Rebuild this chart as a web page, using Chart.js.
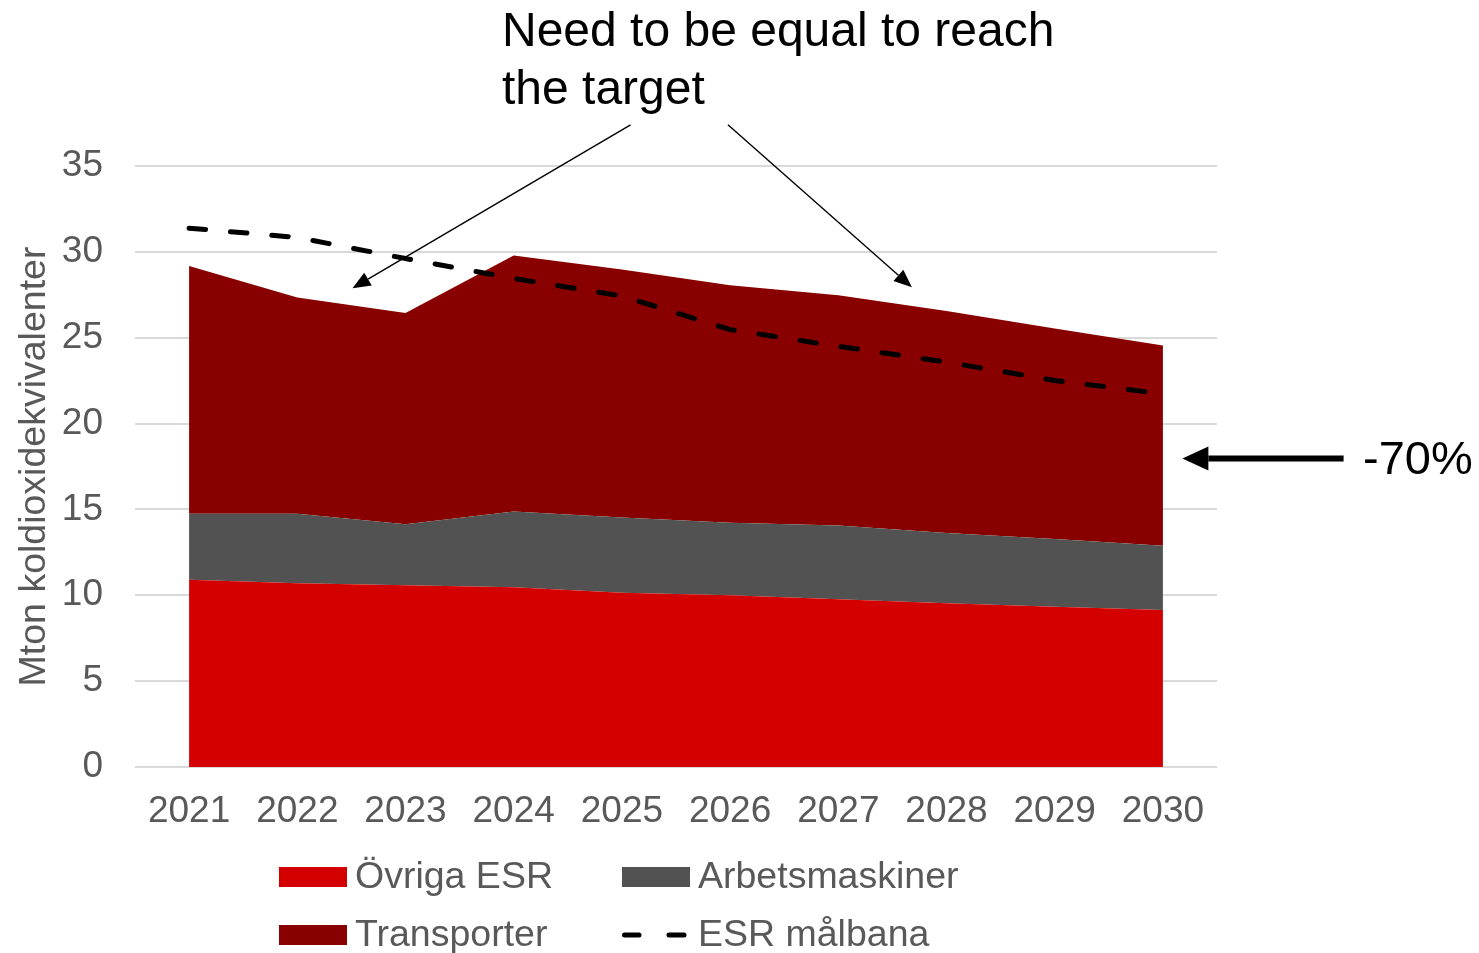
<!DOCTYPE html>
<html>
<head>
<meta charset="utf-8">
<title>ESR</title>
<script src="https://cdn.jsdelivr.net/npm/chart.js@4.4.1/dist/chart.umd.min.js"></script>
<style>
  html, body { margin: 0; padding: 0; background: #fff; }
  #wrap { width: 1479px; height: 953px; }
</style>
</head>
<body>
<div id="wrap"><canvas id="esr-chart" width="1479" height="953"></canvas></div>
<script>
const years = ['2021', '2022', '2023', '2024', '2025', '2026', '2027', '2028', '2029', '2030']
const ovrigaEsr = [10.90, 10.70, 10.59, 10.47, 10.15, 10.00, 9.77, 9.53, 9.33, 9.14]
const arbetsmaskiner = [3.85, 4.05, 3.55, 4.41, 4.38, 4.22, 4.29, 4.10, 3.95, 3.75]
const transporter = [14.42, 12.59, 12.30, 14.91, 14.44, 13.84, 13.41, 12.93, 12.25, 11.66]
const esrMalbana = [31.38, 30.84, 29.61, 28.45, 27.43, 25.47, 24.50, 23.58, 22.51, 21.73]

const FONT = '"Liberation Sans", Arial, sans-serif'
const GREY_TEXT = '#595959'

// arrow helper, tip at (x2, y2)
const drawArrow = (ctx, x1, y1, x2, y2, width, headLen, headWidth) => {
  const ang = Math.atan2(y2 - y1, x2 - x1)
  const bx = x2 - headLen * Math.cos(ang)
  const by = y2 - headLen * Math.sin(ang)
  ctx.save()
  ctx.strokeStyle = '#000'
  ctx.fillStyle = '#000'
  ctx.lineWidth = width
  ctx.beginPath()
  ctx.moveTo(x1, y1)
  ctx.lineTo(bx, by)
  ctx.stroke()
  ctx.beginPath()
  ctx.moveTo(x2, y2)
  ctx.lineTo(bx + headWidth / 2 * Math.sin(ang), by - headWidth / 2 * Math.cos(ang))
  ctx.lineTo(bx - headWidth / 2 * Math.sin(ang), by + headWidth / 2 * Math.cos(ang))
  ctx.closePath()
  ctx.fill()
  ctx.restore()
}

// callout text, arrows and the custom two-column legend
const annotations = {
  id: 'annotations',
  afterDraw(chart) {
    const { ctx, scales: { x, y } } = chart
    const px = (i, v) => [x.getPixelForValue(i), y.getPixelForValue(v)]

    ctx.save()
    ctx.fillStyle = '#000'
    ctx.font = `48px ${FONT}`
    ctx.textBaseline = 'alphabetic'
    ctx.fillText('Need to be equal to reach', 502, 46)
    ctx.fillText('the target', 502, 104)

    // arrows pointing at the gap between target and emissions
    let [ax, ay] = px(4.08, 37.4), [bx, by] = px(1.51, 27.88)
    drawArrow(ctx, ax, ay, bx, by, 1.4, 18, 15)
    ;[ax, ay] = px(4.98, 37.4); [bx, by] = px(6.68, 27.94)
    drawArrow(ctx, ax, ay, bx, by, 1.4, 18, 15)

    // reduction marker
    ;[ax, ay] = px(10.67, 17.96); [bx, by] = px(9.18, 17.96)
    drawArrow(ctx, ax, ay, bx, by, 6, 26, 24)
    ctx.font = `47px ${FONT}`
    ctx.textBaseline = 'middle'
    ctx.fillText('-70%', 1363, ay + 2)

    // legend
    const slots = [[279, 877], [622, 877], [279, 935], [622, 935]]
    ctx.font = `37.5px ${FONT}`
    chart.data.datasets.forEach((ds, i) => {
      const [lx, ly] = slots[i]
      if (ds.fill !== false) {
        ctx.fillStyle = ds.backgroundColor
        ctx.fillRect(lx, ly - 10, 68, 20)
      } else {
        ctx.strokeStyle = ds.borderColor
        ctx.lineWidth = 5
        ctx.lineCap = 'round'
        ctx.beginPath()
        ctx.moveTo(lx + 2.5, ly); ctx.lineTo(lx + 17, ly)
        ctx.moveTo(lx + 47, ly); ctx.lineTo(lx + 62, ly)
        ctx.stroke()
      }
      ctx.fillStyle = GREY_TEXT
      ctx.fillText(ds.label, lx + 76, ly + 1)
    })
    ctx.restore()
  }
}

const data = {
  labels: years,
  datasets: [
    {
      label: 'Övriga ESR',
      data: ovrigaEsr,
      backgroundColor: '#D40000',
      borderWidth: 0,
      fill: 'origin',
      pointRadius: 0,
      stack: 'utslapp'
    },
    {
      label: 'Arbetsmaskiner',
      data: arbetsmaskiner,
      backgroundColor: '#525252',
      borderWidth: 0,
      fill: '-1',
      pointRadius: 0,
      stack: 'utslapp'
    },
    {
      label: 'Transporter',
      data: transporter,
      backgroundColor: '#880000',
      borderWidth: 0,
      fill: '-1',
      pointRadius: 0,
      stack: 'utslapp'
    },
    {
      label: 'ESR målbana',
      data: esrMalbana,
      borderColor: '#000',
      borderWidth: 5,
      borderDash: [16.5, 25],
      borderCapStyle: 'round',
      fill: false,
      pointRadius: 0,
      order: -1,
      stack: 'mal'
    }
  ]
}

const config = {
  type: 'line',
  data: data,
  options: {
    responsive: false,
    animation: false,
    layout: { padding: { top: 166, right: 262, bottom: 0, left: 0 } },
    scales: {
      x: {
        offset: true,
        grid: { display: false },
        border: { display: false },
        ticks: { color: GREY_TEXT, font: { family: FONT, size: 37 }, padding: 15, maxRotation: 0 },
        afterFit: (scale) => { scale.height = 186 }
      },
      y: {
        stacked: true,
        min: 0,
        max: 35,
        grid: { color: '#d9d9d9', lineWidth: 2, drawTicks: false },
        border: { display: false },
        ticks: { stepSize: 5, color: GREY_TEXT, font: { family: FONT, size: 37 }, padding: 32 },
        title: {
          display: true,
          text: 'Mton koldioxidekvivalenter',
          color: GREY_TEXT,
          font: { family: FONT, size: 37.5 },
          padding: { top: 12, bottom: 0 }
        },
        afterFit: (scale) => { scale.width = 135 }
      }
    },
    plugins: {
      legend: { display: false },
      title: { display: false },
      tooltip: { enabled: false }
    }
  },
  plugins: [annotations]
}

const chart = new Chart(document.getElementById('esr-chart').getContext('2d'), config)
</script>
</body>
</html>
